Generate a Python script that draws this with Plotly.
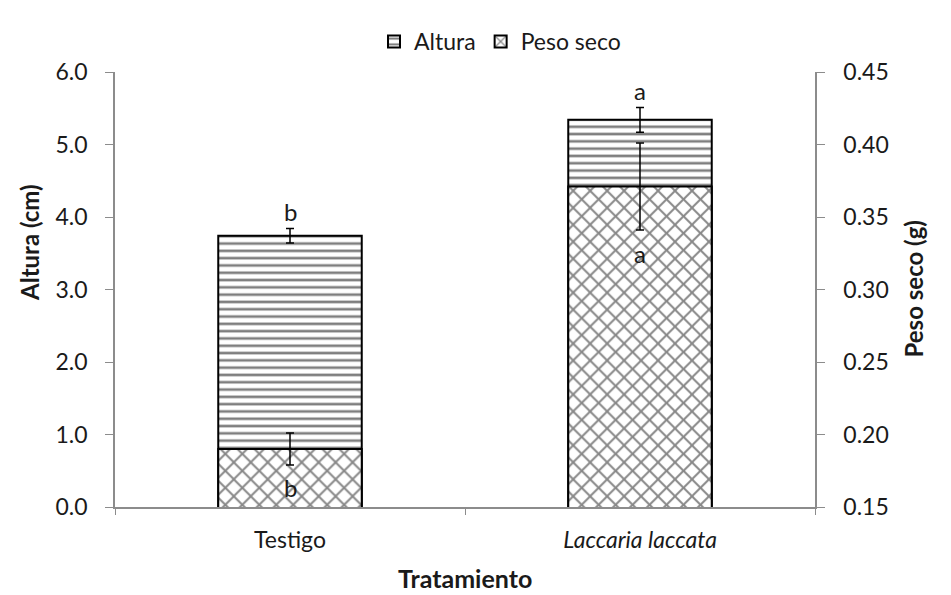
import plotly.graph_objects as go

# data
categories = ['Testigo', '<i>Laccaria laccata</i>']
altura = [3.74, 5.34]
altura_err = [0.10, 0.17]
peso = [0.190, 0.371]
peso_err = [0.011, 0.030]
altura_letters = ['b', 'a']
peso_letters = ['b', 'a']

FONT = 'Lato'
AXIS_GREY = '#8c8c8c'
TEXT = '#1a1a1a'

fig = go.Figure()

fig.add_trace(go.Bar(
    x=categories, y=altura, name='Altura', yaxis='y',
    width=0.41,
    marker=dict(color='white', line=dict(color='black', width=2),
                pattern=dict(shape='-', fgcolor='black', bgcolor='white',
                             size=7.3, solidity=0.36, fillmode='overlay')),
    error_y=dict(type='data', array=altura_err, color='black',
                 thickness=1.5, width=4),
))

fig.add_trace(go.Bar(
    x=categories, y=peso, name='Peso seco', yaxis='y2',
    width=0.41,
    marker=dict(color='white', line=dict(color='black', width=2),
                pattern=dict(shape='x', fgcolor='#111', bgcolor='white',
                             size=12, solidity=0.3, fillmode='overlay')),
    error_y=dict(type='data', array=peso_err, color='black',
                 thickness=1.5, width=4),
))

annotations = []
for cat, val, err, lab in zip(categories, altura, altura_err, altura_letters):
    annotations.append(dict(x=cat, y=val + err, xref='x', yref='y', text=lab,
                            showarrow=False, yanchor='middle', yshift=17,
                            font=dict(family=FONT, size=24, color=TEXT)))
for cat, val, err, lab in zip(categories, peso, peso_err, peso_letters):
    annotations.append(dict(x=cat, y=val - err, xref='x', yref='y2', text=lab,
                            showarrow=False, yanchor='middle', yshift=-23,
                            font=dict(family=FONT, size=24, color=TEXT)))

# axis titles placed as in the reference
annotations.append(dict(x=0, y=0.607, xref='paper', yref='paper', xshift=-85,
                        text='<b>Altura (cm)</b>', textangle=-90, showarrow=False,
                        xanchor='center', yanchor='middle',
                        font=dict(family=FONT, size=24, color=TEXT)))
annotations.append(dict(x=1, y=0.5, xref='paper', yref='paper', xshift=98,
                        text='<b>Peso seco (g)</b>', textangle=-90, showarrow=False,
                        xanchor='center', yanchor='middle',
                        font=dict(family=FONT, size=24, color=TEXT)))
annotations.append(dict(x=0.5, y=0, xref='paper', yref='paper', yshift=-71,
                        text='<b>Tratamiento</b>', showarrow=False,
                        xanchor='center', yanchor='middle',
                        font=dict(family=FONT, size=25, color=TEXT)))

fig.update_layout(
    width=943, height=587,
    paper_bgcolor='white', plot_bgcolor='white',
    margin=dict(l=107, r=136, t=64, b=88),
    barmode='overlay',
    font=dict(family=FONT, size=23, color=TEXT),
    showlegend=True,
    legend=dict(orientation='h', x=0.55, xanchor='center', y=1.07, yanchor='middle',
                font=dict(family=FONT, size=23), itemwidth=30,
                bgcolor='rgba(0,0,0,0)'),
    xaxis=dict(showline=True, linecolor=AXIS_GREY, linewidth=1.5,
               ticks='outside', tickson='boundaries', ticklen=6,
               tickcolor=AXIS_GREY, showgrid=False, tickfont=dict(size=23),
               ticklabelstandoff=12),
    yaxis=dict(range=[0, 6], dtick=1, tickformat='.1f', showline=True,
               linecolor=AXIS_GREY, linewidth=1.5, ticks='outside', ticklen=8,
               tickcolor=AXIS_GREY, showgrid=False, zeroline=False,
               tickfont=dict(size=23), ticklabelstandoff=13),
    yaxis2=dict(range=[0.15, 0.45], dtick=0.05, tickformat='.2f', overlaying='y',
                side='right', showline=True, linecolor=AXIS_GREY, linewidth=1.5,
                ticks='outside', ticklen=8, tickcolor=AXIS_GREY, showgrid=False,
                zeroline=False, tickfont=dict(size=23), ticklabelstandoff=14),
    annotations=annotations,
)

fig.write_html('out.html')
